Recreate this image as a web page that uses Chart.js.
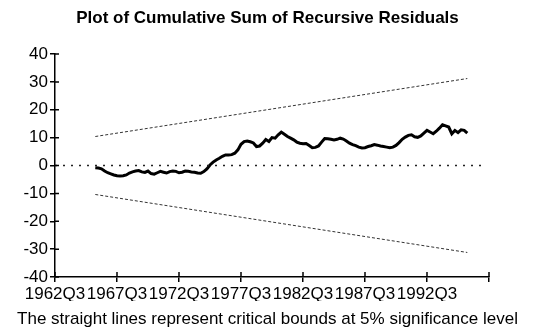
<!DOCTYPE html>
<html>
<head>
<meta charset="utf-8">
<script src="https://cdn.jsdelivr.net/npm/chart.js@4"></script>
<style>
  html, body { margin: 0; padding: 0; background: #fff; }
  #wrap { width: 535px; height: 332px; }
</style>
</head>
<body>
<div id="wrap"><canvas id="cusumChart"></canvas></div>
<script>
// Quarter index 0 = 1962Q3, ticks every 20 quarters
const xTickLabels = ['1962Q3', '1967Q3', '1972Q3', '1977Q3', '1982Q3', '1987Q3', '1992Q3', ''];
const yTicks = [-40, -30, -20, -10, 0, 10, 20, 30, 40];

// CUSUM of recursive residuals, first value at quarter 13
const cusumStart = 13;
const cusum = [
  -0.8, -0.9, -1.2, -2.0, -2.6, -3.0, -3.4, -3.7, -3.8, -3.7,
  -3.4, -2.7, -2.3, -2.0, -1.8, -2.3, -2.5, -2.0, -2.9, -3.1,
  -2.6, -2.1, -2.4, -2.7, -2.2, -2.0, -2.1, -2.6, -2.4, -2.0,
  -2.1, -2.3, -2.4, -2.7, -2.8, -2.2, -1.2, 0.2, 1.2, 2.0,
  2.6, 3.3, 3.8, 3.8, 3.9, 4.4, 5.6, 7.6, 8.6, 8.8,
  8.5, 8.1, 6.8, 7.0, 8.0, 9.3, 8.6, 10.0, 9.8, 11.0,
  12.0, 11.2, 10.4, 9.8, 9.2, 8.4, 8.0, 7.8, 7.9, 7.2,
  6.4, 6.5, 7.0, 8.4, 9.7, 9.6, 9.4, 9.2, 9.4, 9.8,
  9.5, 8.8, 8.0, 7.5, 7.1, 6.6, 6.3, 6.4, 6.8, 7.1,
  7.5, 7.3, 7.0, 6.8, 6.6, 6.4, 6.6, 7.2, 8.2, 9.4,
  10.2, 10.8, 11.0, 10.3, 10.1, 10.6, 11.6, 12.6, 12.0, 11.4,
  12.3, 13.4, 14.6, 14.2, 13.8, 11.4, 12.6, 11.8, 12.8, 12.6,
  11.6
];

// 5% critical bounds at first and last observation
const boundQuarters = [13, 133];
const boundValues = [10.4, 31.2];
const zeroLineQuarters = [0, 138];

const cusumPoints = cusum.map((v, i) => ({ x: cusumStart + i, y: v }));
const upperBound = boundQuarters.map((q, i) => ({ x: q, y: boundValues[i] }));
const lowerBound = boundQuarters.map((q, i) => ({ x: q, y: -boundValues[i] }));
const zeroLine = zeroLineQuarters.map(q => ({ x: q, y: 0 }));

// Tick marks that cross the axis line (inner half)
const innerTicks = {
    id: 'innerTicks',
    afterDraw(chart) {
        const { ctx, scales: { x, y } } = chart;
        ctx.save();
        ctx.strokeStyle = '#000';
        ctx.lineWidth = 1.5;
        ctx.beginPath();
        yTicks.forEach(v => {
            const py = y.getPixelForValue(v);
            ctx.moveTo(x.left, py);
            ctx.lineTo(x.left + 4, py);
        });
        xTickLabels.forEach((_, i) => {
            const px = x.getPixelForValue(i * 20);
            ctx.moveTo(px, y.bottom);
            ctx.lineTo(px, y.bottom - 5);
        });
        ctx.stroke();
        ctx.restore();
    }
};

const font = 'Liberation Sans, Arial, sans-serif';

new Chart(document.getElementById('cusumChart').getContext('2d'), {
    type: 'line',
    data: {
        datasets: [
            {
                data: zeroLine,
                borderColor: '#222',
                borderWidth: 1.5,
                borderDash: [2, 6],
                pointRadius: 0
            },
            {
                data: upperBound,
                borderColor: '#333',
                borderWidth: 1,
                borderDash: [3, 2],
                pointRadius: 0
            },
            {
                data: lowerBound,
                borderColor: '#333',
                borderWidth: 1,
                borderDash: [3, 2],
                pointRadius: 0
            },
            {
                data: cusumPoints,
                borderColor: '#000',
                borderWidth: 3,
                pointRadius: 0,
                tension: 0
            }
        ]
    },
    options: {
        responsive: true,
        maintainAspectRatio: false,
        animation: false,
        layout: { padding: 0 },
        scales: {
            x: {
                type: 'linear',
                min: 0,
                max: 140,
                afterFit: (scale) => { scale.height = 24; },
                border: { color: '#000', width: 1.5 },
                grid: { drawOnChartArea: false, color: '#000', lineWidth: 1.5, tickLength: 5 },
                ticks: {
                    stepSize: 20,
                    autoSkip: false,
                    maxRotation: 0,
                    padding: 2,
                    color: '#000',
                    font: { family: font, size: 17 },
                    callback: (v) => xTickLabels[v / 20]
                }
            },
            y: {
                min: -40,
                max: 40,
                afterFit: (scale) => { scale.width = 55; },
                border: { color: '#000', width: 1.5 },
                grid: { drawOnChartArea: false, color: '#000', lineWidth: 1.5, tickLength: 5 },
                ticks: {
                    stepSize: 10,
                    padding: 2,
                    color: '#000',
                    font: { family: font, size: 17 }
                }
            },
            // empty right margin so titles stay centred on the page
            spacer: {
                position: 'right',
                afterFit: (scale) => { scale.width = 46; },
                border: { display: false },
                grid: { display: false },
                ticks: { display: false }
            }
        },
        plugins: {
            legend: { display: false },
            tooltip: { enabled: false },
            title: {
                display: true,
                text: 'Plot of Cumulative Sum of Recursive Residuals',
                color: '#000',
                font: { family: font, size: 17, weight: 'bold', lineHeight: 1.2 },
                padding: { top: 8.3, bottom: 25.3 }
            },
            subtitle: {
                display: true,
                position: 'bottom',
                text: 'The straight lines represent critical bounds at 5% significance level',
                color: '#000',
                font: { family: font, size: 17, lineHeight: 1.2 },
                padding: { top: 8.3, bottom: 2.3 }
            }
        }
    },
    plugins: [innerTicks]
});
</script>
</body>
</html>
